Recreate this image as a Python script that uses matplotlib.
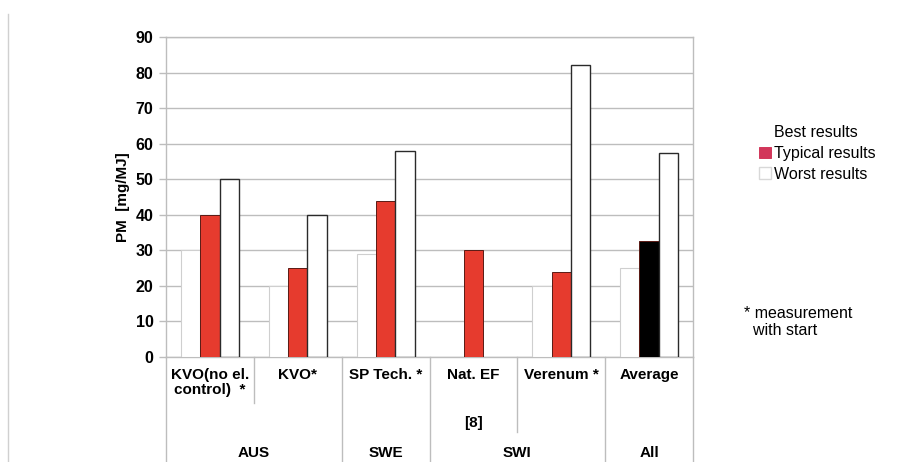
import numpy as np
import matplotlib
matplotlib.use("Agg")
import matplotlib.pyplot as plt
from matplotlib.lines import Line2D
import matplotlib.transforms as mtransforms

# --- data ---
categories = ["KVO(no el.\ncontrol)  *", "KVO*", "SP Tech. *", "Nat. EF", "Verenum *", "Average"]
extra_labels = ["", "", "", "[8]", "", ""]
best = [30, 20, 29, np.nan, 20, 25]
typical = [40, 25, 44, 30, 24, 32.5]
worst = [50, 40, 58, np.nan, 82, 57.5]
countries = ["AUS", "SWE", "SWI", "All"]
country_span = [(0, 1), (2, 2), (3, 4), (5, 5)]

plt.rcParams["font.family"] = ["Liberation Sans", "DejaVu Sans"]

fig = plt.figure(figsize=(9.01, 4.62), dpi=100)
ax = fig.add_axes([166 / 901, 105 / 462, 527 / 901, 320 / 462])

x = np.arange(len(categories))
w = 0.22
grid_c = "#bdbdbd"

ax.bar(x - w, best, w, color="white", edgecolor="#cfcfcf", linewidth=0.8, zorder=3,
       label="Best results")
typ_colors = ["#e63b2e"] * (len(categories) - 1) + ["black"]
ax.bar(x, typical, w, color=typ_colors, edgecolor="#5a1a14", linewidth=0.7, zorder=3,
       label="Typical results")
ax.bar(x + w, worst, w, color="white", edgecolor="#2a2a2a", linewidth=1.0, zorder=3,
       label="Worst results")

ax.set_xlim(-0.5, len(categories) - 0.5)
ax.set_ylim(0, 90)
ax.set_yticks(np.arange(0, 91, 10))
ax.yaxis.grid(True, color=grid_c, linewidth=1.0, zorder=0)
ax.set_axisbelow(True)
ax.set_xticks([])
for s in ax.spines.values():
    s.set_color(grid_c)
    s.set_linewidth(1.0)
ax.tick_params(axis="y", direction="out", length=5, color=grid_c, width=1.0, pad=4)
for lab in ax.get_yticklabels():
    lab.set_fontweight("bold")
    lab.set_fontsize(11.5)
ax.set_ylabel("PM  [mg/MJ]", fontsize=11, fontweight="bold", labelpad=4)

# category table under the axis
trans = mtransforms.blended_transform_factory(ax.transData, ax.transAxes)
bottom = -105 / 320
edges = np.arange(len(categories) + 1) - 0.5
sep_len = {0: bottom, 1: -46 / 320, 2: bottom, 3: bottom, 4: -75 / 320, 5: bottom, 6: bottom}
for i, e in enumerate(edges):
    ax.add_line(Line2D([e, e], [0, sep_len[i]], transform=trans, color=grid_c,
                       linewidth=1.0, clip_on=False))

for xi, lab in zip(x, categories):
    ax.text(xi, -11 / 320, lab, transform=trans, ha="center", va="top",
            fontsize=11, fontweight="bold", linespacing=1.05)
for xi, lab in zip(x, extra_labels):
    if lab:
        ax.text(xi, -66 / 320, lab, transform=trans, ha="center", va="center",
                fontsize=11, fontweight="bold")
for name, (a, b) in zip(countries, country_span):
    ax.text((a + b) / 2, -96 / 320, name, transform=trans, ha="center", va="center",
            fontsize=11, fontweight="bold")

# legend and footnote
handles, labels = ax.get_legend_handles_labels()
leg = fig.legend(handles, labels, loc="upper left", bbox_to_anchor=(753 / 901, 1 - 119 / 462),
                 frameon=False, fontsize=11.5, handlelength=0.7, handleheight=0.7,
                 handletextpad=0.2, labelspacing=0.35, borderaxespad=0)
leg.legend_handles[0].set_edgecolor("white")
leg.legend_handles[1].set_facecolor("#d2365a")
leg.legend_handles[1].set_edgecolor("#d2365a")
leg.legend_handles[2].set_edgecolor("#d8d8d8")

fig.text(744 / 901, 1 - 322 / 462, "* measurement\n  with start", fontsize=11.5,
         va="center", ha="left", linespacing=1.15)

# faint page border at the left
fig.add_artist(Line2D([8 / 901, 8 / 901], [0, 1 - 14 / 462], transform=fig.transFigure,
                      color="#d0d0d0", linewidth=1.0))

fig.savefig("out.png", dpi=100)
